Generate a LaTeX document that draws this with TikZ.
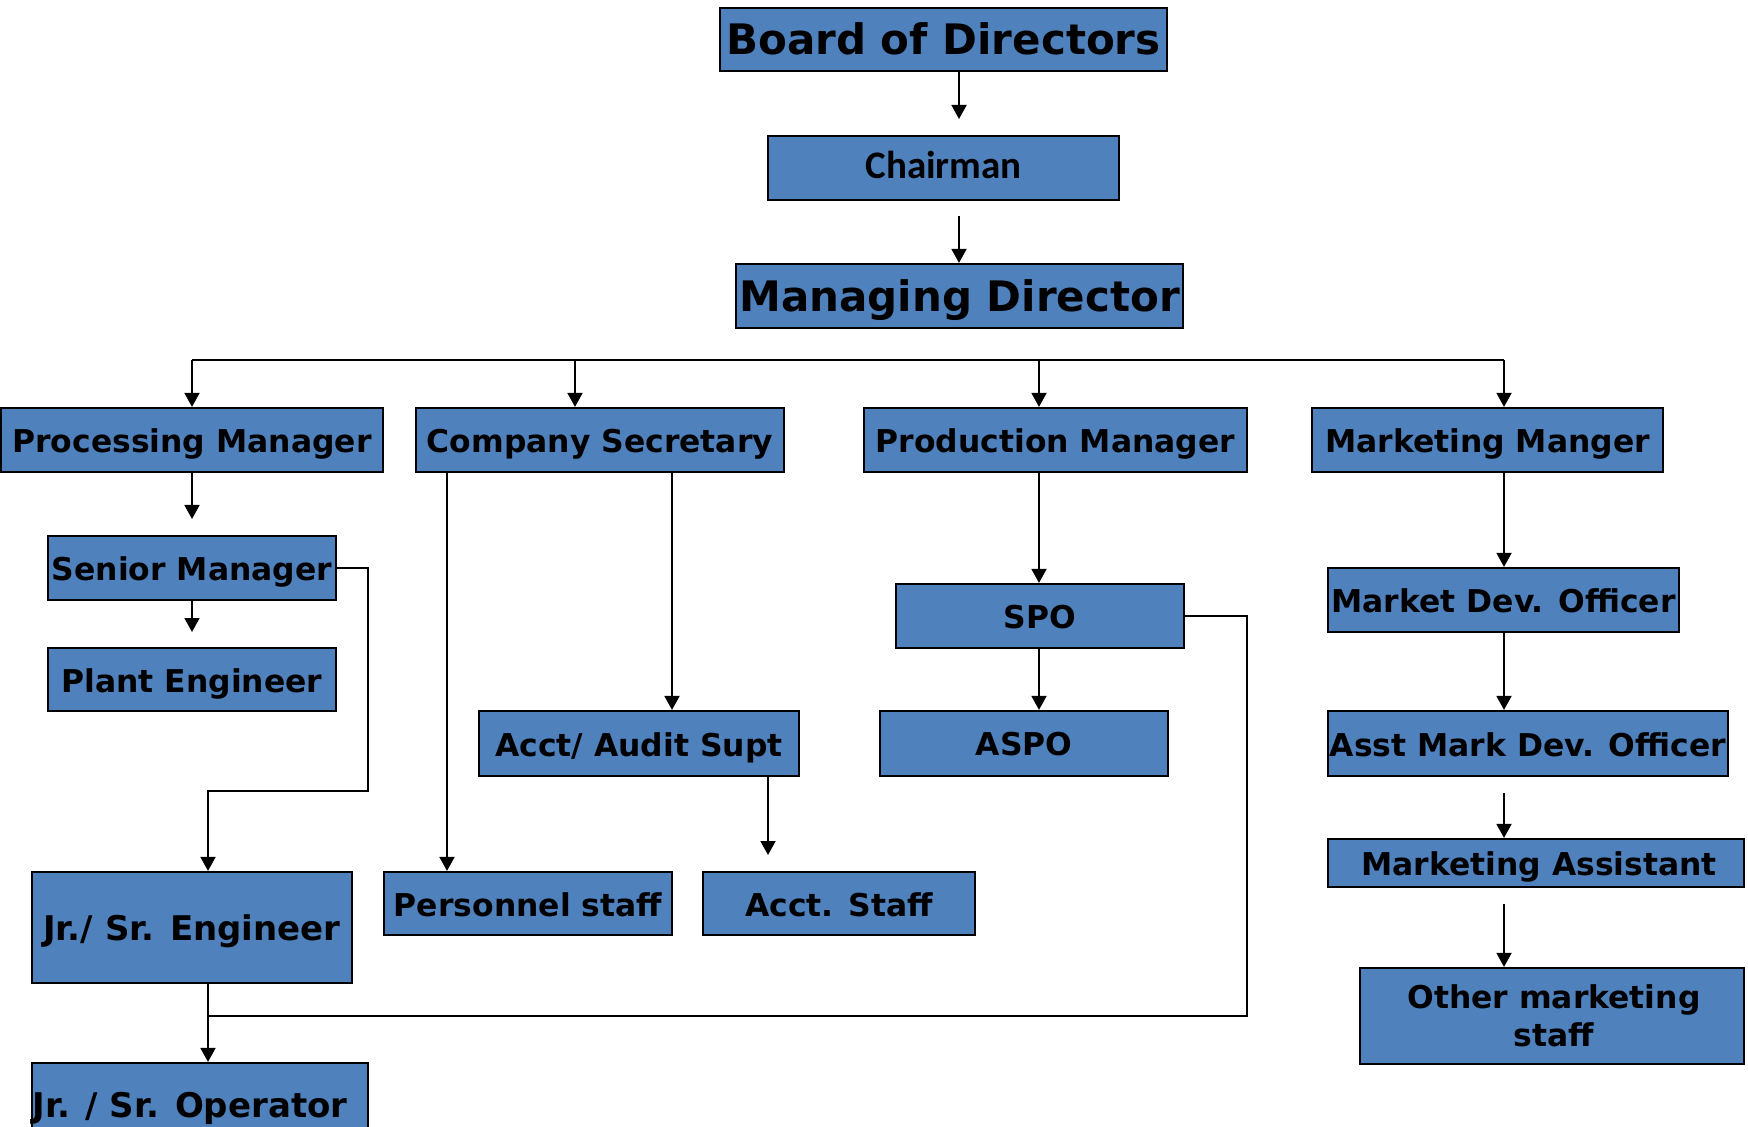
\documentclass[tikz,border=0pt]{standalone}
\usepackage{fontspec}
\setmainfont{DejaVu Sans}
\newfontfamily\calfont{Carlito}
\usetikzlibrary{arrows.meta}
\definecolor{boxblue}{HTML}{4F81BD}
\tikzset{
  box/.style={draw=black, line width=1.1pt, fill=boxblue, inner sep=0pt, text=black,
    font=\bfseries\fontsize{15.7}{19}\selectfont},
  bigbox/.style={box, font=\bfseries\fontsize{21}{25}\selectfont},
  calbox/.style={box, font=\calfont\bfseries\fontsize{19.5}{23}\selectfont},
  largebox/.style={box, font=\bfseries\fontsize{17}{20}\selectfont},
  conn/.style={line width=0.9pt, draw=black},
  arr/.style={conn, -{Triangle[length=7pt,width=7.5pt]}},
  lbl/.style={inner sep=0pt, text=black, font=\bfseries\fontsize{17}{20}\selectfont}
}
\newcommand\bx[7][box]{\node[#1, minimum width={(#5-#3)*0.5pt}, minimum height={(#6-#4)*0.5pt}] (#2) at ({(#3+#5)/2},{(#4+#6)/2}) {\makebox[0pt]{\raisebox{-2pt}[\height][\depth]{\vphantom{Ag}#7}}};}
\begin{document}
\begin{tikzpicture}[x=0.5pt,y=-0.5pt]
\useasboundingbox (0,0) rectangle (1748,1127);
\clip (0,0) rectangle (1748,1127);
% boxes
\bx[bigbox]{board}{720}{8}{1167}{71}{Board of Directors}
\node[calbox, minimum width=175.5pt, minimum height=32pt] (chair) at (943.5,168) {\makebox[0pt]{\vphantom{Ag}Chairman}};
\bx[bigbox]{md}{736}{264}{1183}{328}{Managing Director}
\bx{pm}{1}{408}{383}{472}{Processing Manager}
\bx{cs}{416}{408}{784}{472}{Company Secretary}
\bx{prm}{864}{408}{1247}{472}{Production Manager}
\bx{mm}{1312}{408}{1663}{472}{Marketing Manger}
\bx{sm}{48}{536}{336}{600}{Senior Manager}
\bx{pe}{48}{648}{336}{711}{Plant Engineer}
\bx[largebox]{jse}{32}{872}{352}{983}{Jr./ Sr. Engineer}
\bx{op}{32}{1063}{368}{1160}{}
\node[lbl] (optext) at (190,1108) {Jr. / Sr. Operator};
\bx{ps}{384}{872}{672}{935}{Personnel staff}
\bx{aas}{479}{711}{799}{776}{Acct/ Audit Supt}
\bx{as}{703}{872}{975}{935}{Acct. Staff}
\bx{spo}{896}{584}{1184}{648}{SPO}
\bx{aspo}{880}{711}{1168}{776}{ASPO}
\bx{mdo}{1328}{568}{1679}{632}{Market Dev. Officer}
\bx{amdo}{1328}{711}{1728}{776}{Asst Mark Dev. Officer}
\bx{ma}{1328}{839}{1744}{887}{\hspace{3pt}Marketing Assistant}
\bx{oms}{1360}{968}{1744}{1064}{\hspace{2pt}\begin{tabular}{@{}c@{}}Other marketing\\[0pt] staff\end{tabular}}
% coordinates
\coordinate (c1) at (959,119);
\coordinate (c2) at (959,216);
\coordinate (b1) at (192,360);
\coordinate (b2) at (575,360);
\coordinate (b3) at (1039,360);
\coordinate (b4) at (1504,360);
\coordinate (p1) at (192,519);
\coordinate (p2) at (192,632);
\coordinate (s1) at (368,568);
\coordinate (s2) at (368,791);
\coordinate (s3) at (208,791);
\coordinate (j1) at (208,1016);
\coordinate (j2) at (1247,1016);
\coordinate (k1) at (447,472);
\coordinate (k2) at (672,472);
\coordinate (a1) at (768,855);
\coordinate (m1) at (1504,793);
\coordinate (m2) at (1504,904);
% connectors
\draw[arr] (c1 |- board.south) -- (c1);
\draw[arr] (c2) -- (c2 |- md.north);
\draw[conn] (b1) -- (b4);
\draw[arr] (b1) -- (b1 |- pm.north);
\draw[arr] (b2) -- (b2 |- cs.north);
\draw[arr] (b3) -- (b3 |- prm.north);
\draw[arr] (b4) -- (b4 |- mm.north);
\draw[arr] (pm.south) -- (p1);
\draw[arr] (sm.south) -- (p2);
\draw[arr] (sm.east) -- (s1) -- (s2) -- (s3) -- (s3 |- jse.north);
\draw[arr] (s3 |- jse.south) -- (s3 |- op.north);
\draw[conn] (j1) -- (j2) -- (j2 |- spo.east) -- (spo.east);
\draw[arr] (b3 |- prm.south) -- (b3 |- spo.north);
\draw[arr] (b3 |- spo.south) -- (b3 |- aspo.north);
\draw[arr] (k1) -- (k1 |- ps.north);
\draw[arr] (k2) -- (k2 |- aas.north);
\draw[arr] (a1 |- aas.south) -- (a1);
\draw[arr] (b4 |- mm.south) -- (b4 |- mdo.north);
\draw[arr] (b4 |- mdo.south) -- (b4 |- amdo.north);
\draw[arr] (m1) -- (m1 |- ma.north);
\draw[arr] (m2) -- (m2 |- oms.north);
\end{tikzpicture}
\end{document}
